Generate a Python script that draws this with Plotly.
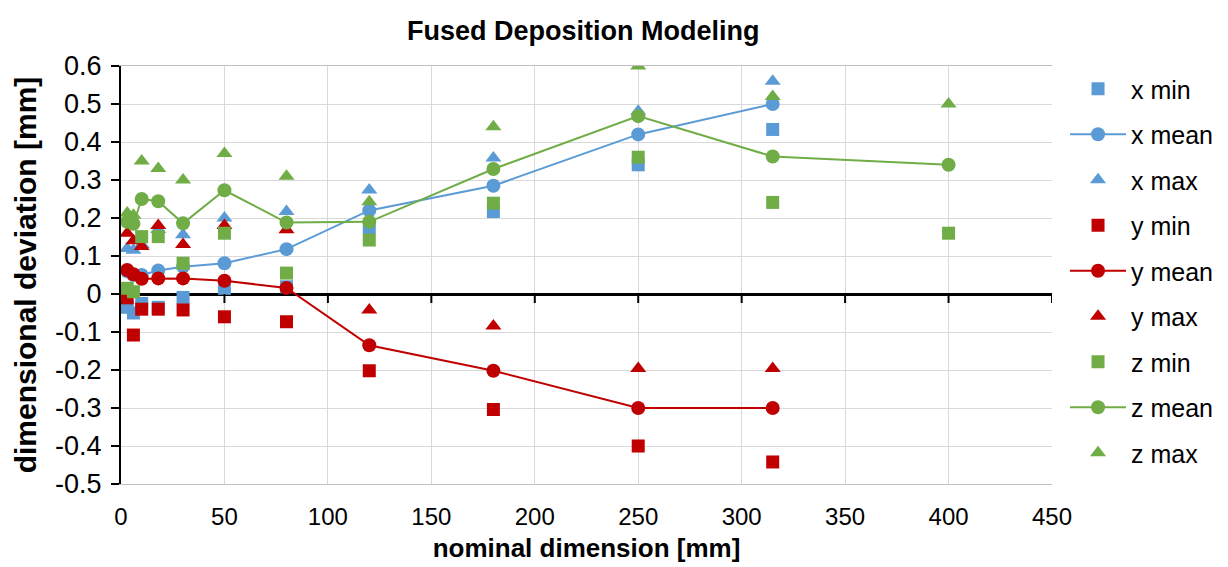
import plotly.graph_objects as go

# nominal dimensions [mm]
dims = [3, 6, 10, 18, 30, 50, 80, 120, 180, 250, 315, 400]

x_min  = [-0.035, -0.05, -0.025, -0.035, -0.009, 0.015, 0.019, 0.174, 0.217, 0.34, 0.433, None]
x_mean = [0.06, 0.05, 0.05, 0.062, 0.072, 0.081, 0.118, 0.22, 0.285, 0.42, 0.50, None]
x_max  = [0.12, 0.115, 0.13, 0.17, 0.156, 0.20, 0.217, 0.274, 0.358, 0.481, 0.56, None]

y_min  = [-0.01, -0.108, -0.04, -0.04, -0.042, -0.06, -0.073, -0.202, -0.304, -0.40, -0.442, None]
y_mean = [0.063, 0.052, 0.04, 0.041, 0.041, 0.035, 0.016, -0.135, -0.202, -0.30, -0.30, None]
y_max  = [0.16, 0.14, 0.125, 0.18, 0.13, 0.18, 0.169, -0.042, -0.084, -0.196, -0.196, None]

z_min  = [0.015, 0.006, 0.151, 0.151, 0.081, 0.16, 0.055, 0.142, 0.239, 0.36, 0.241, 0.16]
z_mean = [0.19, 0.185, 0.25, 0.244, 0.186, 0.273, 0.188, 0.19, 0.329, 0.468, 0.362, 0.34]
z_max  = [0.213, 0.207, 0.35, 0.33, 0.30, 0.37, 0.31, 0.243, 0.44, 0.60, 0.52, 0.50]

y_ticks = [0.6, 0.5, 0.4, 0.3, 0.2, 0.1, 0, -0.1, -0.2, -0.3, -0.4, -0.5]
y_ticktext = ["0.6", "0.5", "0.4", "0.3", "0.2", "0.1", "0", "-0.1", "-0.2", "-0.3", "-0.4", "-0.5"]
x_ticks = [0, 50, 100, 150, 200, 250, 300, 350, 400, 450]

BLUE = "#5B9BD5"
RED = "#C00000"
GREEN = "#70AD47"

series = [
    ("x min", x_min, BLUE, "square", False),
    ("x mean", x_mean, BLUE, "circle", True),
    ("x max", x_max, BLUE, "triangle-up", False),
    ("y min", y_min, RED, "square", False),
    ("y mean", y_mean, RED, "circle", True),
    ("y max", y_max, RED, "triangle-up", False),
    ("z min", z_min, GREEN, "square", False),
    ("z mean", z_mean, GREEN, "circle", True),
    ("z max", z_max, GREEN, "triangle-up", False),
]

fig = go.Figure()
for i, (name, vals, col, sym, line) in enumerate(series):
    fig.add_trace(go.Scatter(
        x=dims, y=vals, name=name,
        mode="lines+markers" if line else "markers",
        line=dict(color=col, width=2),
        marker=dict(color=col, symbol=sym, size=14 if sym != "square" else 13),
        legendgroup=f"g{i}",
        connectgaps=False,
    ))

# small tick marks on the black zero axis
for xv in x_ticks[1:]:
    fig.add_shape(type="line", xref="x", yref="y", ysizemode="pixel", yanchor=0,
                  x0=xv, x1=xv, y0=0, y1=-9, line=dict(color="black", width=2))

FONT = "Liberation Sans, Arial"
fig.update_layout(
    width=1228, height=567,
    paper_bgcolor="white", plot_bgcolor="white",
    margin=dict(l=121, r=176, t=66, b=83, autoexpand=False),
    title=dict(text="<b>Fused Deposition Modeling</b>", x=0.475, xanchor="center",
               y=0.947, yanchor="middle",
               font=dict(family=FONT, size=27, color="black")),
    font=dict(family=FONT, color="black"),
    legend=dict(x=1.014, y=1.0, xanchor="left", yanchor="top",
                font=dict(size=25, family=FONT, color="black"),
                tracegroupgap=10, itemwidth=56, traceorder="grouped",
                bgcolor="rgba(0,0,0,0)"),
    showlegend=True,
)
fig.update_xaxes(
    range=[0, 450], tickvals=x_ticks, automargin=False,
    ticks="outside", ticklen=11, tickcolor="rgba(0,0,0,0)",
    showgrid=True, gridcolor="#D9D9D9", gridwidth=1,
    showline=True, linecolor="#BFBFBF", linewidth=1, mirror=True,
    zeroline=False,
    tickfont=dict(family=FONT, size=24, color="black"),
    title=dict(text="<b>nominal dimension [mm]</b>", standoff=10,
               font=dict(family=FONT, size=26, color="black")),
)
fig.update_yaxes(
    range=[-0.5, 0.6], tickvals=y_ticks, ticktext=y_ticktext, automargin=False,
    ticks="outside", ticklen=8, tickwidth=2, tickcolor="black",
    ticklabelstandoff=4,
    showgrid=True, gridcolor="#D9D9D9", gridwidth=1,
    showline=True, linecolor="black", linewidth=2,
    zeroline=True, zerolinecolor="black", zerolinewidth=2.5,
    tickfont=dict(family=FONT, size=27, color="black"),
    title=dict(text="<b>dimensional deviation [mm]</b>", standoff=10,
               font=dict(family=FONT, size=30, color="black")),
)

fig.write_html("out.html", config={"displayModeBar": False},
               post_script="document.body.style.margin='0';document.body.style.overflow='hidden';")
